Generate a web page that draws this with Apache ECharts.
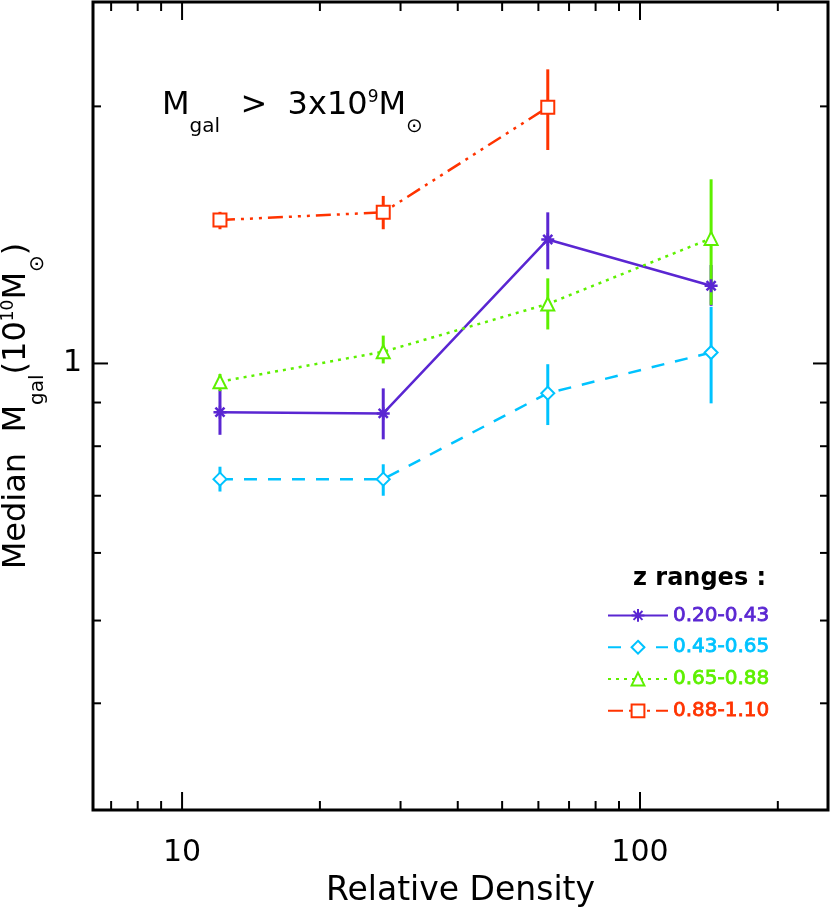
<!DOCTYPE html>
<html>
<head>
<meta charset="utf-8">
<script src="https://cdn.jsdelivr.net/npm/echarts@6/dist/echarts.min.js"></script>
<style>
html, body { margin: 0; padding: 0; background: #fff; }
#chart { width: 831px; height: 916px; }
</style>
</head>
<body>
<div id="chart"></div>
<script>
// relative density bins and median galaxy mass (10^10 Msun) per redshift range
const density = [12.1, 27.5, 62.9, 143];
const zNames = ['0.20-0.43', '0.43-0.65', '0.65-0.88', '0.88-1.10'];

const mPurple = [0.877, 0.874, 1.397, 1.233];
const loPurple = [0.825, 0.815, 1.289, 1.168];
const hiPurple = [0.931, 0.935, 1.503, 1.304];

const mCyan = [0.732, 0.732, 0.923, 1.030];
const loCyan = [0.708, 0.700, 0.847, 0.898];
const hiCyan = [0.757, 0.762, 0.998, 1.165];

const mGreen = [0.952, 1.032, 1.174, 1.401];
const loGreen = [0.928, 1.000, 1.096, 1.171];
const hiGreen = [0.972, 1.078, 1.258, 1.643];

const mRed = [1.472, 1.503, 1.995];
const loRed = [1.436, 1.436, 1.778];
const hiRed = [1.505, 1.571, 2.210];

const xMajorTicks = [10, 100];
const xMinorTicks = [7, 8, 9, 20, 30, 40, 50, 60, 70, 80, 90, 200];
const yMajorTicks = [1];
const yMinorTicks = [0.4, 0.5, 0.6, 0.7, 0.8, 0.9, 2];

const FONT = 'DejaVu Sans';
const colors = ['#5a26d2', '#00c3ff', '#5df000', '#ff3300'];
const asterisk = 'path://M10,0L10,20M0,10L20,10M3,3L17,17M3,17L17,3';

function lineSeries(name, vals, color, symbol, lineType) {
    return {
        name: name,
        type: 'line',
        data: vals.map((v, i) => [density[i], v]),
        symbol: symbol,
        symbolSize: 13,
        lineStyle: {color: color, width: 2.5, type: lineType},
        itemStyle: {color: color, borderColor: color, borderWidth: 2.5},
        silent: true,
        z: 3
    };
}

function errSeries(name, lo, hi, color) {
    return {
        name: name + ' err',
        type: 'custom',
        data: lo.map((l, i) => [density[i], l, hi[i]]),
        encode: {x: 0, y: [1, 2]},
        silent: true,
        z: 3,
        renderItem: (params, api) => {
            const a = api.coord([api.value(0), api.value(1)]);
            const b = api.coord([api.value(0), api.value(2)]);
            return {
                type: 'line',
                shape: {x1: a[0], y1: a[1], x2: b[0], y2: b[1]},
                style: {stroke: color, lineWidth: 3}
            };
        }
    };
}

// ticks on all four sides, drawn through the axis scales
const xTickData = xMajorTicks.map(v => [v, 1, 1]).concat(xMinorTicks.map(v => [v, 1, 0]));
const yTickData = yMajorTicks.map(v => [10, v, 1]).concat(yMinorTicks.map(v => [10, v, 0]));

const tickStyle = {stroke: '#000', lineWidth: 2};

const xTicks = {
    type: 'custom',
    data: xTickData,
    encode: {x: 0, y: 1},
    silent: true,
    z: 5,
    renderItem: (params, api) => {
        const cs = params.coordSys;
        const x = api.coord([api.value(0), 1])[0];
        const len = api.value(2) ? 18 : 9;
        const bottom = cs.y + cs.height;
        return {
            type: 'group',
            children: [
                {type: 'line', shape: {x1: x, y1: bottom, x2: x, y2: bottom - len}, style: tickStyle},
                {type: 'line', shape: {x1: x, y1: cs.y, x2: x, y2: cs.y + len}, style: tickStyle}
            ]
        };
    }
};

const yTicks = {
    type: 'custom',
    data: yTickData,
    encode: {x: 0, y: 1},
    silent: true,
    z: 5,
    renderItem: (params, api) => {
        const cs = params.coordSys;
        const y = api.coord([10, api.value(1)])[1];
        const len = api.value(2) ? 15 : 8;
        const right = cs.x + cs.width;
        return {
            type: 'group',
            children: [
                {type: 'line', shape: {x1: cs.x, y1: y, x2: cs.x + len, y2: y}, style: tickStyle},
                {type: 'line', shape: {x1: right, y1: y, x2: right - len, y2: y}, style: tickStyle}
            ]
        };
    }
};

function powerOfTen(v) {
    const l = Math.log10(v);
    return Math.abs(l - Math.round(l)) < 1e-6 ? String(Math.round(v)) : '';
}

const richText = {
    m: {fontSize: 32, fontFamily: FONT, fontWeight: 'normal', color: '#000'},
    s: {fontSize: 20, fontFamily: FONT, fontWeight: 'normal', color: '#000', padding: [42, 0, 0, 0]},
    p: {fontSize: 17, fontFamily: FONT, fontWeight: 'normal', color: '#000', padding: [0, 0, 16, 0]}
};

const chart = echarts.init(document.getElementById('chart'), null, {renderer: 'canvas'});

chart.setOption({
    animation: false,
    backgroundColor: '#fff',
    title: [
        {
            text: '{m|M}{s|gal}{m|  >  3x10}{p|9}{m|M}{s|⊙}',
            left: 162,
            top: 75,
            padding: 0,
            textStyle: {fontWeight: 'normal', rich: richText}
        },
        {
            text: 'z ranges :',
            left: 633,
            top: 567,
            padding: 0,
            textStyle: {fontFamily: FONT, fontSize: 24, fontWeight: 'bold', color: '#000'}
        }
    ],
    legend: {
        orient: 'vertical',
        left: 607,
        top: 605,
        padding: 0,
        itemWidth: 60,
        itemHeight: 16,
        itemGap: 11,
        selectedMode: false,
        data: zNames.map((n, i) => ({
            name: n,
            textStyle: {color: colors[i], textBorderColor: colors[i], textBorderWidth: 0.8}
        })),
        textStyle: {fontFamily: FONT, fontSize: 20}
    },
    grid: {
        left: 93,
        right: 3,
        top: 2,
        bottom: 106,
        show: true,
        borderColor: '#000',
        borderWidth: 3,
        containLabel: false,
        outerBoundsMode: 'none'
    },
    xAxis: {
        type: 'log',
        logBase: 10,
        min: 6.39,
        max: 257.4,
        axisLine: {show: false},
        axisTick: {show: false},
        splitLine: {show: false},
        axisLabel: {
            formatter: powerOfTen,
            fontFamily: FONT,
            fontSize: 30,
            color: '#000',
            margin: 28
        },
        name: 'Relative Density',
        nameLocation: 'middle',
        nameGap: 65,
        nameMoveOverlap: false,
        nameTextStyle: {fontFamily: FONT, fontSize: 33, color: '#000'}
    },
    yAxis: {
        type: 'log',
        logBase: 10,
        min: 0.3,
        max: 2.65,
        axisLine: {show: false},
        axisTick: {show: false},
        splitLine: {show: false},
        axisLabel: {
            formatter: powerOfTen,
            fontFamily: FONT,
            fontSize: 30,
            color: '#000',
            margin: 11
        },
        name: '{m|Median  M}{s|gal}{m|(10}{p|10}{m|M}{s|⊙}{m|)}',
        nameLocation: 'middle',
        nameRotate: 90,
        nameGap: 45,
        nameMoveOverlap: false,
        nameTextStyle: {rich: richText}
    },
    series: [
        lineSeries(zNames[0], mPurple, colors[0], asterisk, 'solid'),
        errSeries(zNames[0], loPurple, hiPurple, colors[0]),
        lineSeries(zNames[1], mCyan, colors[1], 'emptyDiamond', [13, 11]),
        errSeries(zNames[1], loCyan, hiCyan, colors[1]),
        lineSeries(zNames[2], mGreen, colors[2], 'emptyTriangle', [3, 5]),
        errSeries(zNames[2], loGreen, hiGreen, colors[2]),
        lineSeries(zNames[3], mRed, colors[3], 'emptyRect', [15, 6, 3, 6, 3, 6, 3, 6]),
        errSeries(zNames[3], loRed, hiRed, colors[3]),
        xTicks,
        yTicks
    ]
});
</script>
</body>
</html>
